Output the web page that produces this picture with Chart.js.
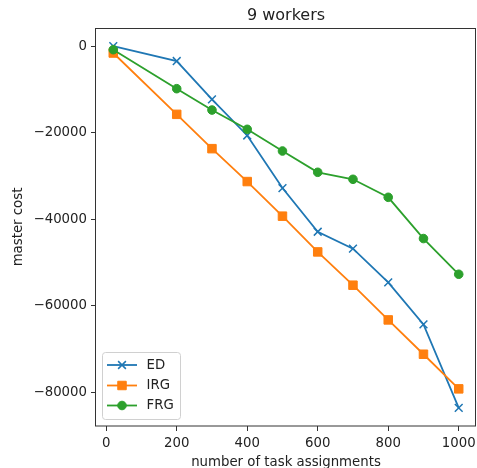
<!DOCTYPE html>
<html><head><meta charset="utf-8">
<script src="https://cdn.jsdelivr.net/npm/chart.js@4/dist/chart.umd.min.js"></script>
<style>html,body{margin:0;padding:0;background:#fff;overflow:hidden}</style>
</head><body>
<canvas id="c" width="477" height="468"></canvas>
<script>
const titleText = '9 workers';
const xLabel = 'number of task assignments';
const yLabel = 'master cost';
const seriesNames = ['ED', 'IRG', 'FRG'];
const assignments = [20, 200, 300, 400, 500, 600, 700, 800, 900, 1000];
const edCost  = [0, -3450, -12300, -20650, -32800, -42900, -46800, -54600, -64300, -83600];
const irgCost = [-1600, -15770, -23700, -31300, -39300, -47560, -55250, -63270, -71200, -79200];
const frgCost = [-830, -9840, -14780, -19230, -24240, -29160, -30780, -34940, -44470, -52720];
const xTicks = [0, 200, 400, 600, 800, 1000];
const yTicks = [0, -20000, -40000, -60000, -80000];

const FONT = '"DejaVu Sans", sans-serif';
const colors = ['#1f77b4', '#ff7f0e', '#2ca02c'];
const styles = [
  {pointStyle: 'crossRot', radius: 5.5, borderWidth: 1.5},
  {pointStyle: 'rect', radius: 6, borderWidth: 1},
  {pointStyle: 'circle', radius: 4.3, borderWidth: 1}
];
const values = [edCost, irgCost, frgCost];

const datasets = values.map((vals, i) => ({
  label: seriesNames[i],
  data: assignments.map((x, j) => ({x: x, y: vals[j]})),
  borderColor: colors[i],
  backgroundColor: colors[i],
  pointBackgroundColor: colors[i],
  pointBorderColor: colors[i],
  pointStyle: styles[i].pointStyle,
  pointRadius: styles[i].radius,
  pointBorderWidth: styles[i].borderWidth,
  borderWidth: 1.8,
  tension: 0,
  order: 3 - i
}));

const fmt = v => v < 0 ? '\u2212' + Math.abs(v) : String(v);

const deco = {
  id: 'deco',
  afterDraw(chart) {
    const ctx = chart.ctx, a = chart.chartArea;
    ctx.save();
    // frame
    ctx.strokeStyle = '#333';
    ctx.lineWidth = 1;
    ctx.strokeRect(Math.round(a.left) - 0.5, Math.round(a.top) + 0.5,
      Math.round(a.right - a.left), Math.round(a.bottom - a.top) - 0.5);
    // title
    ctx.fillStyle = '#222';
    ctx.font = '16px ' + FONT;
    ctx.textAlign = 'center';
    ctx.textBaseline = 'alphabetic';
    ctx.fillText(titleText, (a.left + a.right) / 2, 20);
    // legend
    const bx = a.left + 6.5, by = a.bottom - 73.5, bw = 78, bh = 67, r = 3;
    ctx.beginPath();
    ctx.moveTo(bx + r, by);
    ctx.arcTo(bx + bw, by, bx + bw, by + bh, r);
    ctx.arcTo(bx + bw, by + bh, bx, by + bh, r);
    ctx.arcTo(bx, by + bh, bx, by, r);
    ctx.arcTo(bx, by, bx + bw, by, r);
    ctx.closePath();
    ctx.fillStyle = 'rgba(255,255,255,0.8)';
    ctx.fill();
    ctx.strokeStyle = '#d0d0d0';
    ctx.stroke();
    const rows = [a.bottom - 61, a.bottom - 40.5, a.bottom - 20.5];
    chart.data.datasets.forEach((ds, i) => {
      const y = rows[i];
      ctx.strokeStyle = ds.borderColor;
      ctx.lineWidth = ds.borderWidth;
      ctx.beginPath();
      ctx.moveTo(a.left + 11, y);
      ctx.lineTo(a.left + 41, y);
      ctx.stroke();
      ctx.fillStyle = ds.pointBackgroundColor;
      ctx.strokeStyle = ds.pointBorderColor;
      ctx.lineWidth = ds.pointBorderWidth;
      Chart.helpers.drawPoint(ctx, {pointStyle: ds.pointStyle, radius: ds.pointRadius,
        borderWidth: ds.pointBorderWidth, rotation: 0}, a.left + 26, y);
      ctx.fillStyle = '#222';
      ctx.font = '13.3px ' + FONT;
      ctx.textAlign = 'left';
      ctx.textBaseline = 'middle';
      ctx.fillText(ds.label, a.left + 50.5, y + 0.5);
    });
    ctx.restore();
  }
};

new Chart(document.getElementById('c'), {
  type: 'line',
  data: {datasets: datasets},
  plugins: [deco],
  options: {
    responsive: false,
    animation: false,
    devicePixelRatio: 1,
    layout: {autoPadding: false, padding: {top: 28, right: 1, left: 0, bottom: 0}},
    plugins: {legend: {display: false}, tooltip: {enabled: false}, title: {display: false}},
    scales: {
      x: {
        type: 'linear',
        min: -29, max: 1049,
        afterBuildTicks: s => { s.ticks = xTicks.map(v => ({value: v})); },
        afterFit: s => { s.height = 42; s.paddingLeft = 0; s.paddingRight = 0; },
        border: {display: false},
        grid: {drawOnChartArea: false, drawTicks: true, tickLength: 5, color: '#333', lineWidth: 1},
        ticks: {color: '#222', font: {family: FONT, size: 13.3}, padding: 5, maxRotation: 0, autoSkip: false, callback: fmt},
        title: {display: true, text: xLabel, color: '#222', font: {family: FONT, size: 13.3}, padding: {top: 0, bottom: -3}}
      },
      y: {
        type: 'linear',
        min: -87780, max: 4180,
        afterBuildTicks: s => { s.ticks = yTicks.map(v => ({value: v})); },
        afterFit: s => { s.width = 96; s.paddingTop = 0; s.paddingBottom = 0; },
        border: {display: false},
        grid: {drawOnChartArea: false, drawTicks: true, tickLength: 5, color: '#333', lineWidth: 1},
        ticks: {color: '#222', font: {family: FONT, size: 13.3}, padding: 4, autoSkip: false, callback: fmt},
        title: {display: true, text: yLabel, color: '#222', font: {family: FONT, size: 13.3}, padding: {top: 11, bottom: 0}}
      }
    }
  }
});
</script>
</body></html>
